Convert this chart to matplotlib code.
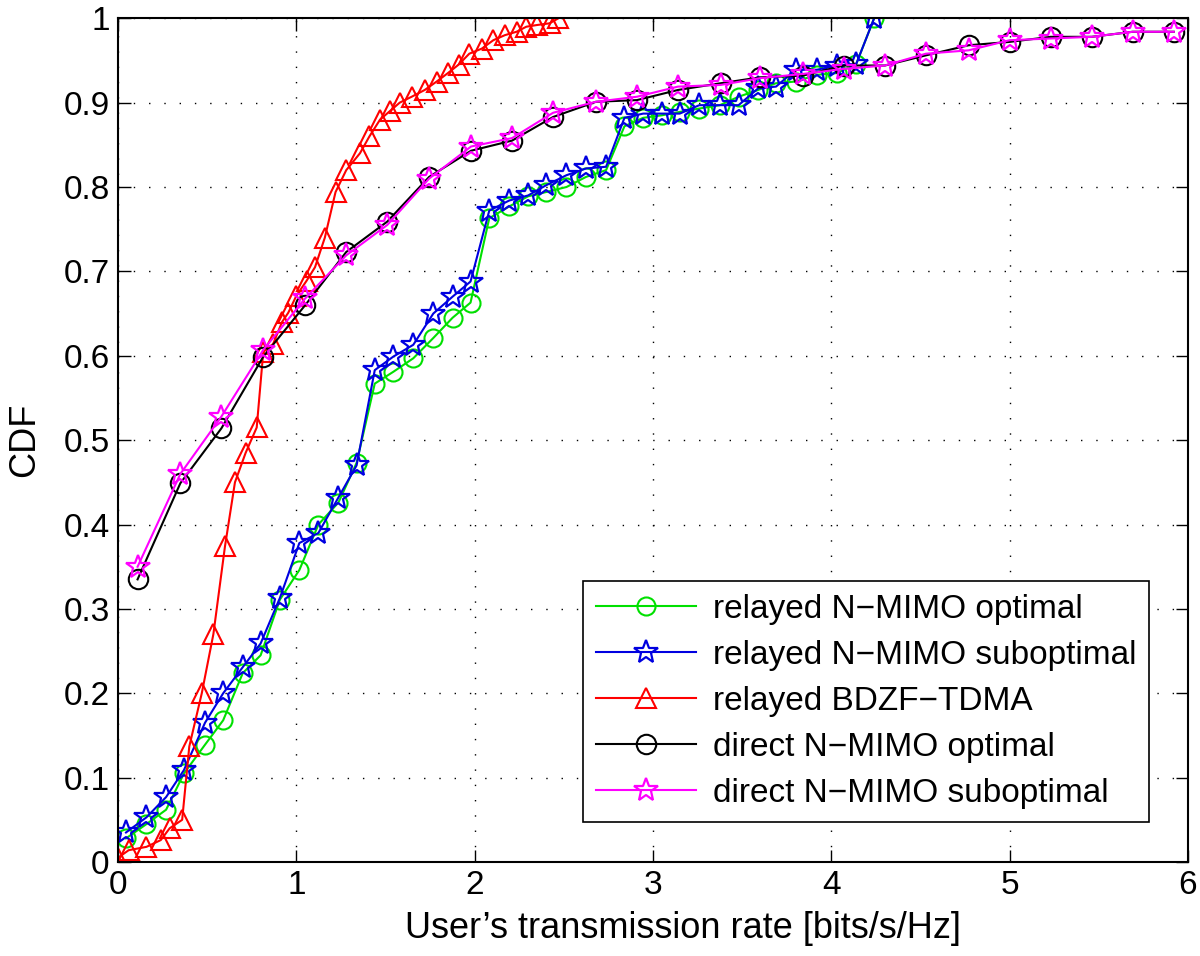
import numpy as np
import matplotlib
matplotlib.use('Agg')
import matplotlib.pyplot as plt

plt.rcParams['font.family'] = ['Liberation Sans', 'DejaVu Sans']

# relayed N-MIMO (optimal / suboptimal) share the same rate grid
relay_x = [0.045, 0.16, 0.27, 0.37, 0.488, 0.59, 0.70, 0.80, 0.908, 1.017,
           1.124, 1.236, 1.338, 1.44, 1.544, 1.656, 1.768, 1.876, 1.977, 2.082,
           2.194, 2.30, 2.40, 2.515, 2.625, 2.737, 2.84, 2.945, 3.05, 3.15,
           3.26, 3.375, 3.48, 3.59, 3.69, 3.80, 3.92, 4.03, 4.14, 4.24]
relay_opt = [0.028, 0.045, 0.062, 0.105, 0.139, 0.168, 0.224, 0.245, 0.311, 0.346,
             0.40, 0.426, 0.473, 0.567, 0.581, 0.597, 0.621, 0.645, 0.663, 0.763,
             0.777, 0.789, 0.794, 0.80, 0.812, 0.82, 0.872, 0.882, 0.885, 0.889,
             0.893, 0.897, 0.907, 0.915, 0.923, 0.925, 0.933, 0.935, 0.946, 1.0]
relay_sub = [0.035, 0.053, 0.077, 0.109, 0.165, 0.20, 0.231, 0.259, 0.313, 0.378,
             0.39, 0.432, 0.47, 0.583, 0.599, 0.613, 0.65, 0.67, 0.688, 0.772,
             0.784, 0.79, 0.802, 0.814, 0.822, 0.824, 0.882, 0.887, 0.887, 0.887,
             0.897, 0.897, 0.897, 0.917, 0.919, 0.939, 0.939, 0.944, 0.946, 1.0]

bdzf_x = [0.0, 0.06, 0.16, 0.24, 0.29, 0.36, 0.40, 0.47, 0.535, 0.60,
          0.656, 0.716, 0.778, 0.815, 0.87, 0.92, 0.955, 1.0, 1.058, 1.105,
          1.16, 1.22, 1.28, 1.357, 1.41, 1.47, 1.525, 1.58, 1.647, 1.72,
          1.787, 1.85, 1.91, 1.97, 2.04, 2.105, 2.17, 2.235, 2.29, 2.35,
          2.42, 2.47]
bdzf_y = [0.005, 0.014, 0.018, 0.026, 0.04, 0.05, 0.137, 0.20, 0.27, 0.374,
          0.45, 0.485, 0.515, 0.605, 0.614, 0.64, 0.651, 0.671, 0.689, 0.705,
          0.74, 0.794, 0.82, 0.84, 0.86, 0.88, 0.89, 0.90, 0.907, 0.915,
          0.925, 0.935, 0.945, 0.958, 0.964, 0.974, 0.98, 0.984, 0.99, 0.992,
          0.994, 1.0]

direct_x = [0.11, 0.35, 0.58, 0.815, 1.05, 1.28, 1.51, 1.745, 1.98, 2.21,
            2.44, 2.68, 2.91, 3.14, 3.38, 3.60, 3.84, 4.07, 4.30, 4.53,
            4.77, 5.00, 5.23, 5.46, 5.69, 5.92]
direct_opt = [0.335, 0.449, 0.514, 0.599, 0.66, 0.723, 0.759, 0.812, 0.843, 0.855,
              0.883, 0.901, 0.903, 0.915, 0.923, 0.93, 0.932, 0.944, 0.944, 0.956,
              0.968, 0.972, 0.978, 0.978, 0.984, 0.984]
direct_sub = [0.35, 0.46, 0.528, 0.607, 0.668, 0.719, 0.755, 0.81, 0.848, 0.858,
              0.888, 0.901, 0.907, 0.919, 0.921, 0.929, 0.934, 0.94, 0.944, 0.958,
              0.962, 0.974, 0.976, 0.978, 0.984, 0.984]

fig = plt.figure(figsize=(12, 9.56), dpi=100)
ax = fig.add_axes([0.0983, 0.0983, 0.8917, 0.8826])

lw = 1.5
ax.plot(relay_x, relay_opt, '-o', color='#00e000', mfc='none', ms=13, mew=1.5, lw=lw,
        label='relayed N\u2212MIMO optimal')
ax.plot(relay_x, relay_sub, '-*', color='#0000e0', mfc='none', ms=18, mew=1.6, lw=lw,
        label='relayed N\u2212MIMO suboptimal')
ax.plot(bdzf_x, bdzf_y, '-^', color='red', mfc='none', ms=15, mew=1.5, lw=lw,
        label='relayed BDZF\u2212TDMA')
ax.plot(direct_x, direct_opt, '-o', color='black', mfc='none', ms=14, mew=1.5, lw=lw,
        label='direct N\u2212MIMO optimal')
ax.plot(direct_x, direct_sub, '-*', color='magenta', mfc='none', ms=18, mew=1.6, lw=lw,
        label='direct N\u2212MIMO suboptimal')

ax.set_xlim(0, 6)
ax.set_ylim(0, 1)
ax.set_xticks(np.arange(0, 7, 1))
ax.set_yticks(np.arange(0, 1.01, 0.1))
ax.set_yticklabels(['0'] + ['%.1f' % v for v in np.arange(0.1, 1.0, 0.1)] + ['1'])
ax.grid(True, color='black', linestyle=(0, (1, 10)), linewidth=1.0)
ax.tick_params(direction='in', labelsize=24, length=9, width=1, top=True, right=True, pad=6)
for s in ax.spines.values():
    s.set_linewidth(1.5)

ax.set_xlabel('User\u2019s transmission rate [bits/s/Hz]', fontsize=26)
ax.set_ylabel('CDF', fontsize=26)
ax.xaxis.set_label_coords(0.528, -0.058)
ax.yaxis.set_label_coords(-0.071, 0.5)

leg = ax.legend(loc='lower right', bbox_to_anchor=(0.964, 0.047), borderaxespad=0,
                fontsize=24, fancybox=False, framealpha=1, edgecolor='black',
                handlelength=3.0, labelspacing=0.45, borderpad=0.4, handletextpad=0.5)
leg.get_frame().set_linewidth(1.2)

fig.savefig('out.png', dpi=100)
